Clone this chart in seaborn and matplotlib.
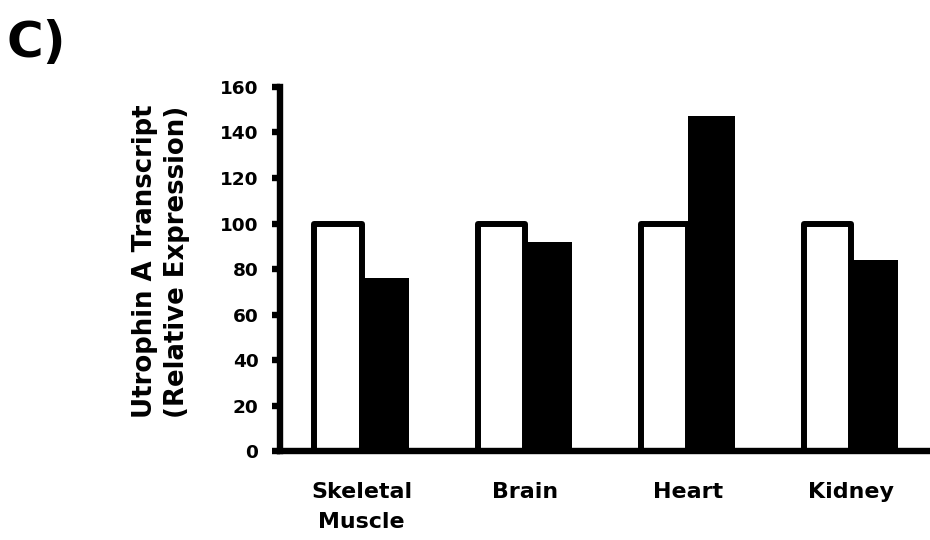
import matplotlib
matplotlib.use("Agg")
import matplotlib.pyplot as plt
import pandas as pd
import seaborn as sns

# Utrophin A transcript levels per tissue (relative expression, control = 100)
tissues = ["Skeletal\nMuscle", "Brain", "Heart", "Kidney"]
groups = ["Control", "Treated"]
control = [100, 100, 100, 100]
treated = [76, 92, 147, 84]
yticks = [0, 20, 40, 60, 80, 100, 120, 140, 160]

df = pd.DataFrame({
    "tissue": tissues * 2,
    "group": [groups[0]] * len(tissues) + [groups[1]] * len(tissues),
    "value": control + treated,
})

sns.set_theme(style="white")
plt.rcParams["font.family"] = ["DejaVu Sans"]
plt.rcParams["font.weight"] = "bold"

fig = plt.figure(figsize=(9.3, 5.4), dpi=100)
ax = fig.add_axes([0.301, 0.1639, 0.702, 0.6755])

sns.barplot(data=df, x="tissue", y="value", hue="group", order=tissues,
            hue_order=groups, palette=["white", "black"], saturation=1,
            width=0.578, linewidth=0, legend=False, ax=ax)

# outlined white bars, solid black bars
for p in ax.containers[0]:
    p.set_edgecolor("black")
    p.set_linewidth(4.3)
    p.set_joinstyle("round")
for p in ax.containers[1]:
    p.set_edgecolor("black")
    p.set_linewidth(0)

ax.set_xlim(-0.5, 3.5)
ax.set_ylim(0, 160)
ax.set_yticks(yticks)
ax.set_yticklabels([str(v) for v in yticks])

for side in ("top", "right"):
    ax.spines[side].set_visible(False)
for side in ("left", "bottom"):
    ax.spines[side].set_linewidth(4.6)
    ax.spines[side].set_color("black")
    ax.spines[side].set_capstyle("projecting")

ax.tick_params(axis="y", direction="out", length=5.5, width=4.6, pad=10,
               labelsize=13.3, colors="black", left=True)
ax.tick_params(axis="x", length=0, pad=22, labelsize=15.9, colors="black")
for lab in ax.get_xticklabels():
    lab.set_fontweight("bold")
    lab.set_linespacing(1.6)
for lab in ax.get_yticklabels():
    lab.set_fontweight("bold")

ax.set_xlabel("")
ax.set_ylabel("Utrophin A Transcript\n(Relative Expression)", fontsize=18.7,
              fontweight="bold", linespacing=1.3, va="center", color="black")
ax.yaxis.set_label_coords(-0.1823, 0.521)

fig.text(0.0065, 0.8944, "C)", fontsize=36, fontweight="bold",
         va="baseline", ha="left", color="black")

fig.savefig("out.png", dpi=100)
